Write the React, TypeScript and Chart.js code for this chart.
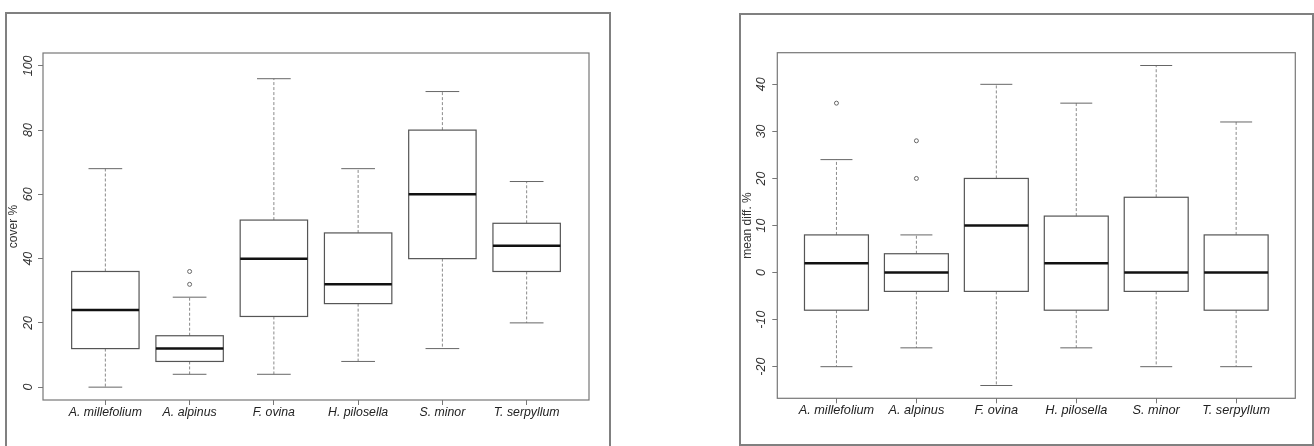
import React, { useEffect, useRef } from "react";
import { Chart, registerables } from "chart.js";
Chart.register(...registerables);

const species = ["A. millefolium", "A. alpinus", "F. ovina", "H. pilosella", "S. minor", "T. serpyllum"];

const coverMin = [0, 4, 4, 8, 12, 20];
const coverQ1 = [12, 8, 22, 26, 40, 36];
const coverMedian = [24, 12, 40, 32, 60, 44];
const coverQ3 = [36, 16, 52, 48, 80, 51];
const coverMax = [68, 28, 96, 68, 92, 64];
const coverOutliers = [[], [32, 36], [], [], [], []];
const coverTicks = [0, 20, 40, 60, 80, 100];

const diffMin = [-20, -16, -24, -16, -20, -20];
const diffQ1 = [-8, -4, -4, -8, -4, -8];
const diffMedian = [2, 0, 10, 2, 0, 0];
const diffQ3 = [8, 4, 20, 12, 16, 8];
const diffMax = [24, 8, 40, 36, 44, 32];
const diffOutliers = [[36], [20, 28], [], [], [], []];
const diffTicks = [-20, -10, 0, 10, 20, 30, 40];

const FONT = "'Liberation Sans', Arial, sans-serif";

const boxPlugin = {
  id: "rbox",
  beforeDatasetsDraw(chart: any, _args: any, opts: any) {
    const { ctx, chartArea } = chart;
    const x = chart.scales.x;
    const y = chart.scales.y;
    const { min, q1, med, q3, max } = opts;
    ctx.save();
    for (let i = 0; i < min.length; i++) {
      const cx = x.getPixelForValue(i + 1);
      const hw = x.getPixelForValue(i + 1 + 0.4) - cx;
      const sw = x.getPixelForValue(i + 1 + 0.2) - cx;
      // whiskers
      ctx.lineWidth = 1;
      ctx.setLineDash([3, 2]);
      ctx.strokeStyle = "#8a8a8a";
      ctx.beginPath();
      ctx.moveTo(cx, y.getPixelForValue(q3[i]));
      ctx.lineTo(cx, y.getPixelForValue(max[i]));
      ctx.moveTo(cx, y.getPixelForValue(q1[i]));
      ctx.lineTo(cx, y.getPixelForValue(min[i]));
      ctx.stroke();
      // staples
      ctx.setLineDash([]);
      ctx.strokeStyle = "#666";
      ctx.beginPath();
      ctx.moveTo(cx - sw, y.getPixelForValue(max[i]));
      ctx.lineTo(cx + sw, y.getPixelForValue(max[i]));
      ctx.moveTo(cx - sw, y.getPixelForValue(min[i]));
      ctx.lineTo(cx + sw, y.getPixelForValue(min[i]));
      ctx.stroke();
      // box
      const top = y.getPixelForValue(q3[i]);
      const bot = y.getPixelForValue(q1[i]);
      ctx.fillStyle = "#fff";
      ctx.fillRect(cx - hw, top, 2 * hw, bot - top);
      ctx.strokeStyle = "#555";
      ctx.lineWidth = 1.2;
      ctx.strokeRect(cx - hw, top, 2 * hw, bot - top);
      // median
      ctx.strokeStyle = "#111";
      ctx.lineWidth = 2.5;
      ctx.beginPath();
      ctx.moveTo(cx - hw, y.getPixelForValue(med[i]));
      ctx.lineTo(cx + hw, y.getPixelForValue(med[i]));
      ctx.stroke();
    }
    // plot frame
    ctx.strokeStyle = "#777";
    ctx.lineWidth = 1.2;
    ctx.strokeRect(chartArea.left, chartArea.top, chartArea.right - chartArea.left, chartArea.bottom - chartArea.top);
    ctx.restore();
  },
};

function makeConfig(p: any) {
  const outlierPts: any[] = [];
  p.outliers.forEach((arr: number[], i: number) => arr.forEach((v) => outlierPts.push({ x: i + 1, y: v })));
  return {
    type: "scatter",
    data: {
      datasets: [
        {
          data: outlierPts,
          pointRadius: 2,
          pointStyle: "circle",
          borderColor: "#666",
          backgroundColor: "#fff",
          borderWidth: 1,
        },
      ],
    },
    plugins: [boxPlugin],
    options: {
      responsive: false,
      animation: false,
      layout: { padding: p.padding },
      plugins: {
        legend: { display: false },
        tooltip: { enabled: false },
        rbox: { min: p.min, q1: p.q1, med: p.med, q3: p.q3, max: p.max },
      },
      scales: {
        x: {
          type: "linear",
          min: 0.26,
          max: 6.74,
          afterFit(s: any) {
            s.height = p.xHeight;
          },
          afterBuildTicks(s: any) {
            s.ticks = species.map((_, i) => ({ value: i + 1 }));
          },
          ticks: {
            callback: (v: number) => species[Math.round(v) - 1] ?? "",
            font: { family: FONT, style: "italic", size: p.xFont },
            color: "#222",
            padding: p.xPad,
            maxRotation: 0,
            minRotation: 0,
            autoSkip: false,
          },
          grid: { display: true, drawOnChartArea: false, tickLength: 5, color: "#777" },
          border: { display: false },
        },
        y: {
          type: "linear",
          min: p.yMin,
          max: p.yMax,
          afterFit(s: any) {
            s.width = 43;
          },
          afterBuildTicks(s: any) {
            s.ticks = p.ticks.map((v: number) => ({ value: v }));
          },
          ticks: {
            minRotation: 90,
            maxRotation: 90,
            crossAlign: "center",
            padding: p.yPad,
            font: { family: FONT, style: "italic", size: 12.5 },
            color: "#333",
          },
          grid: { display: true, drawOnChartArea: false, tickLength: 5, color: "#777" },
          border: { display: false },
          title: {
            display: true,
            text: p.title,
            font: { family: FONT, size: 12 },
            color: "#333",
            padding: { top: p.titlePad, bottom: 0 },
          },
        },
      },
    },
  };
}

function BoxChart({ params, left }: { params: any; left: number }) {
  const ref = useRef<HTMLCanvasElement>(null);
  useEffect(() => {
    const chart = new Chart(ref.current as HTMLCanvasElement, makeConfig(params) as any);
    return () => chart.destroy();
  }, []);
  return (
    <canvas
      ref={ref}
      width={657}
      height={446}
      style={{ position: "absolute", left, top: 0, width: 657, height: 446 }}
    />
  );
}

const leftParams = {
  min: coverMin, q1: coverQ1, med: coverMedian, q3: coverQ3, max: coverMax, outliers: coverOutliers,
  ticks: coverTicks, yMin: -4, yMax: 104, title: "cover %",
  padding: { left: 0, right: 68, top: 53, bottom: 0 }, xHeight: 46, xFont: 12.3, xPad: 0.5, yPad: -1.4, titlePad: 6,
};

const rightParams = {
  min: diffMin, q1: diffQ1, med: diffMedian, q3: diffQ3, max: diffMax, outliers: diffOutliers,
  ticks: diffTicks, yMin: -26.72, yMax: 46.72, title: "mean diff. %",
  padding: { left: 77.3, right: 18.7, top: 52.7, bottom: 0 }, xHeight: 47.7, xFont: 12.7, xPad: 0, yPad: 1.3, titlePad: 5.7,
};

export default function App() {
  return (
    <div style={{ position: "absolute", left: 0, top: 0, width: 1314, height: 446, overflow: "hidden", background: "#fff" }}>
      <BoxChart params={leftParams} left={0} />
      <BoxChart params={rightParams} left={657} />
      <div
        style={{
          position: "absolute", left: 5, top: 12, width: 606, height: 450, boxSizing: "border-box",
          border: "2px solid #808080", borderBottom: "none",
        }}
      />
      <div
        style={{
          position: "absolute", left: 739, top: 13, width: 575, height: 433, boxSizing: "border-box",
          border: "2px solid #808080",
        }}
      />
    </div>
  );
}
